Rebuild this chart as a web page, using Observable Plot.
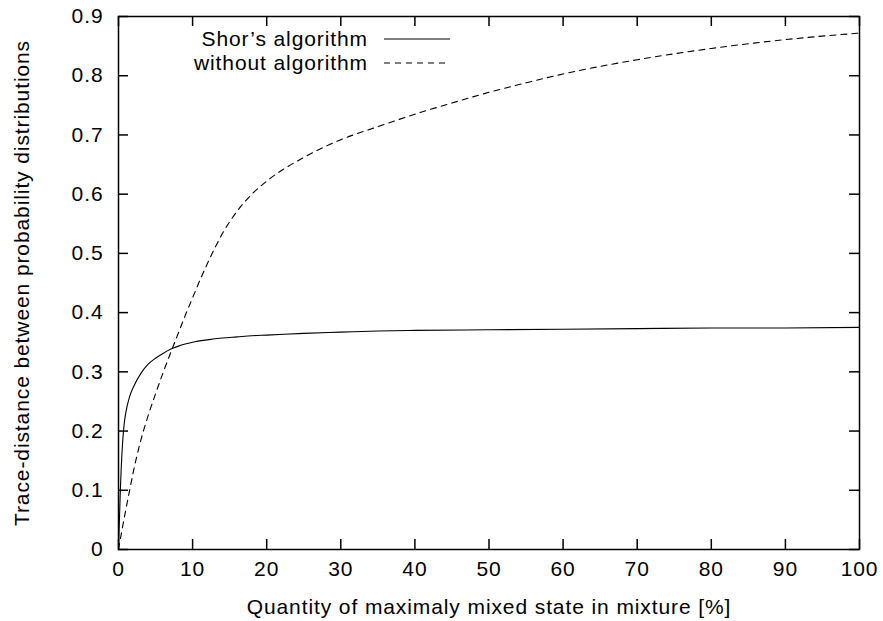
<!DOCTYPE html>
<html>
<head>
<meta charset="utf-8">
<script src="https://cdn.jsdelivr.net/npm/d3@7"></script>
<script src="https://cdn.jsdelivr.net/npm/@observablehq/plot@0.6"></script>
<style>
  html, body { margin: 0; padding: 0; background: white; }
</style>
</head>
<body>
<div id="chart"></div>
<script>
// ---- data ----
const xTicks = [0, 10, 20, 30, 40, 50, 60, 70, 80, 90, 100];
const yTicks = [0, 0.1, 0.2, 0.3, 0.4, 0.5, 0.6, 0.7, 0.8, 0.9];
const yTickLabels = ["0", "0.1", "0.2", "0.3", "0.4", "0.5", "0.6", "0.7", "0.8", "0.9"];

const seriesNames = ["Shor’s algorithm", "without algorithm"];

const shorPct = [0, 0.25, 0.5, 0.75, 1, 1.5, 2, 3, 4, 5, 6, 7, 8, 9, 10, 12, 14, 16, 18, 20, 25, 30, 35, 40, 50, 60, 70, 80, 90, 100];
const shorVal = [0, 0.100, 0.170, 0.210, 0.232, 0.258, 0.274, 0.297, 0.313, 0.323, 0.331, 0.338, 0.343, 0.347, 0.350, 0.354, 0.357, 0.359, 0.361, 0.362, 0.365, 0.367, 0.369, 0.370, 0.371, 0.372, 0.373, 0.374, 0.374, 0.375];

const withoutPct = [0, 0.5, 1, 1.5, 2, 3, 4, 5, 6, 7, 8, 9, 10, 11, 12, 13, 14, 16, 18, 20, 25, 30, 35, 40, 45, 50, 55, 60, 70, 80, 90, 100];
const withoutVal = [0, 0.035, 0.068, 0.100, 0.131, 0.184, 0.226, 0.263, 0.298, 0.331, 0.363, 0.395, 0.425, 0.455, 0.483, 0.509, 0.533, 0.571, 0.600, 0.622, 0.662, 0.692, 0.714, 0.735, 0.754, 0.772, 0.788, 0.803, 0.827, 0.846, 0.861, 0.872];

const xLabel = "Quantity of maximaly mixed state in mixture [%]";
const yLabel = "Trace-distance between probability distributions";

// ---- build tables ----
const shorRows = shorPct.map((p, i) => ({pct: p, val: shorVal[i]}));
const withoutRows = withoutPct.map((p, i) => ({pct: p, val: withoutVal[i]}));

const W = 883, H = 621;
const mL = 118, mR = 24, mT = 16, mB = 72;
const innerW = W - mL - mR, innerH = H - mT - mB;
const tickLen = 10;
const FONT = "'Liberation Sans', Arial, Helvetica, sans-serif";
const FS = 21;
const LS = "0.9px";
const dashes = [null, "6,5"];
const legendTop = 23, rowGap = 24;

function legendMark(index, scales, values, dimensions) {
  const g = d3.create("svg:g");
  const left = dimensions.marginLeft;
  const top = dimensions.marginTop;
  seriesNames.forEach((name, i) => {
    const cy = top + legendTop + i * rowGap;
    g.append("text")
      .attr("x", left + 250).attr("y", cy).attr("dy", "0.35em")
      .attr("text-anchor", "end").attr("fill", "black").text(name);
    const ln = g.append("line")
      .attr("x1", left + 266).attr("x2", left + 332)
      .attr("y1", cy).attr("y2", cy)
      .attr("stroke", "black").attr("stroke-width", 1.1);
    if (dashes[i]) ln.attr("stroke-dasharray", dashes[i]);
  });
  return g.node();
}

const chart = Plot.plot({
  width: W, height: H,
  marginLeft: mL, marginRight: mR, marginTop: mT, marginBottom: mB,
  x: {domain: [0, 100], label: null},
  y: {domain: [0, 0.9], label: null},
  style: {fontFamily: FONT, fontSize: FS + "px", letterSpacing: LS, color: "black", background: "white", overflow: "visible"},
  marks: [
    Plot.line(shorRows, {x: "pct", y: "val", stroke: "black", strokeWidth: 1.1, curve: "monotone-x"}),
    Plot.line(withoutRows, {x: "pct", y: "val", stroke: "black", strokeWidth: 1.1, strokeDasharray: "6,5", curve: "monotone-x"}),
    Plot.tickX(xTicks, {x: d => d, insetTop: innerH - tickLen, stroke: "black", strokeWidth: 1.5}),
    Plot.tickX(xTicks, {x: d => d, insetBottom: innerH - tickLen, stroke: "black", strokeWidth: 1.5}),
    Plot.tickY(yTicks, {y: d => d, insetRight: innerW - tickLen, stroke: "black", strokeWidth: 1.5}),
    Plot.tickY(yTicks, {y: d => d, insetLeft: innerW - tickLen, stroke: "black", strokeWidth: 1.5}),
    Plot.axisX({ticks: xTicks, tickSize: 0, tickPadding: 12, label: null, tickFormat: d => String(d)}),
    Plot.axisY({ticks: yTicks, tickSize: 0, tickPadding: 15, label: null, tickFormat: d => yTickLabels[yTicks.indexOf(d)]}),
    Plot.text([xLabel], {text: d => d, frameAnchor: "bottom", dy: 58, lineAnchor: "middle", fill: "black"}),
    Plot.text([yLabel], {text: d => d, frameAnchor: "left", dx: -96, rotate: -90, textAnchor: "middle", lineAnchor: "middle", fill: "black"}),
    Plot.frame({stroke: "black", strokeWidth: 1.5}),
    legendMark
  ]
});

document.getElementById("chart").appendChild(chart);
</script>
</body>
</html>
